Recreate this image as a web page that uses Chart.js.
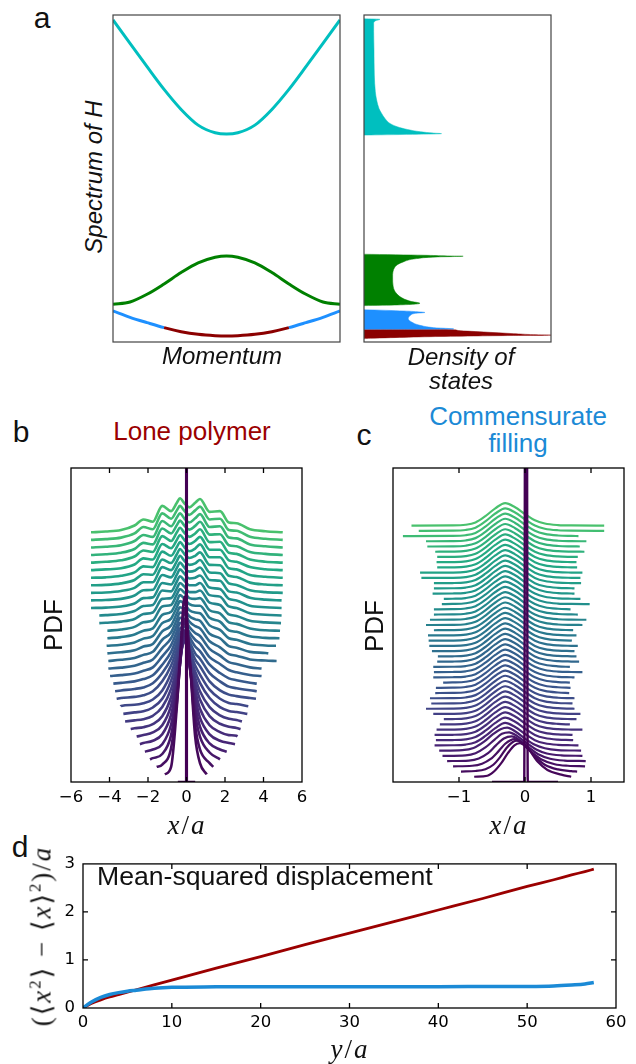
<!DOCTYPE html>
<html lang="en">
<head>
  <meta charset="UTF-8" />
  <meta name="viewport" content="width=device-width, initial-scale=1" />
  <title>Spectrum, PDF ridges and mean-squared displacement</title>
  <script src="https://cdn.jsdelivr.net/npm/chart.js"></script>
  <style>
    * { box-sizing: border-box; }
    body {
      margin: 0;
      width: 636px;
      height: 1064px;
      position: relative;
      overflow: hidden;
      background: #fff;
      color: #111;
      font-family: "Liberation Sans", Arial, sans-serif;
    }
    canvas { display: block; }
    .panel { position: absolute; }
    .t {
      position: absolute;
      line-height: 1;
      white-space: nowrap;
      transform: translate(-50%, -50%);
    }
    .rot { transform: translate(-50%, -50%) rotate(-90deg); }
    .letter { font-size: 30px; }
    .ital { font-style: italic; font-size: 24px; }
    .big { font-size: 26px; }
    .math { font-family: "Liberation Serif", "DejaVu Serif", serif; font-size: 27px; letter-spacing: 2px; }
    .math sup { font-size: 0.62em; vertical-align: 0.6em; line-height: 0; }
  </style>
</head>
<body>
  <!-- panel a -->
  <div class="panel" style="left:109px; top:11px;"><canvas id="bandChart" width="235" height="335"></canvas></div>
  <div class="panel" style="left:360px; top:11px;"><canvas id="dosChart" width="195" height="335"></canvas></div>
  <!-- panels b and c -->
  <div class="panel" style="left:46px; top:458px;"><canvas id="loneChart" width="281" height="354"></canvas></div>
  <div class="panel" style="left:373px; top:458px;"><canvas id="commChart" width="257" height="354"></canvas></div>
  <!-- panel d -->
  <div class="panel" style="left:43px; top:846px;"><canvas id="msdChart" width="593" height="192"></canvas></div>

  <div class="t letter" style="left:42px; top:18px;">a</div>
  <div class="t ital rot" style="left:94px; top:177px;">Spectrum of H</div>
  <div class="t ital" style="left:222px; top:356px;">Momentum</div>
  <div class="t ital" style="left:461px; top:357px;">Density of</div>
  <div class="t ital" style="left:461px; top:381px;">states</div>

  <div class="t letter" style="left:21px; top:432px;">b</div>
  <div class="t big" style="left:192px; top:431px; color:#9b0000;">Lone polymer</div>
  <div class="t letter" style="left:364px; top:435px;">c</div>
  <div class="t big" style="left:518px; top:416px; color:#1b8ad6;">Commensurate</div>
  <div class="t big" style="left:518px; top:443px; color:#1b8ad6;">filling</div>
  <div class="t big rot" style="left:53px; top:625px;">PDF</div>
  <div class="t big rot" style="left:374px; top:626px;">PDF</div>
  <div class="t math" style="left:187px; top:825px;"><i>x</i>/<i>a</i></div>
  <div class="t math" style="left:509px; top:825px;"><i>x</i>/<i>a</i></div>

  <div class="t letter" style="left:20px; top:847px;">d</div>
  <div class="t math rot" style="left:42px; top:936px;">(⟨<i>x</i><sup>2</sup>⟩ − ⟨<i>x</i>⟩<sup>2</sup>)/<i>a</i></div>
  <div class="t math" style="left:350px; top:1049px;"><i>y</i>/<i>a</i></div>
  <div style="position:absolute; left:97px; top:876px; transform:translateY(-50%); font-size:26.6px; line-height:1; white-space:nowrap;">Mean-squared displacement</div>

  <script>
    // ---------- panel a: bands vs momentum ----------
    const bandK   = [-1, -0.85, -0.7, -0.55, -0.4, -0.25, -0.1, 0, 0.1, 0.25, 0.4, 0.55, 0.7, 0.85, 1];
    const bandTop = [96.5, 89.5, 82.5, 75.7, 69.7, 65, 62.7, 62.3, 62.7, 65, 69.7, 75.7, 82.5, 89.5, 96.5];
    const bandMid = [11.3, 12.0, 14.3, 17.4, 20.8, 23.7, 25.4, 25.8, 25.4, 23.7, 20.8, 17.4, 14.3, 12.0, 11.3];
    const bandLow = [9.3, 7.4, 5.8, 4.3, 3.1, 2.3, 1.9, 1.8, 1.9, 2.3, 3.1, 4.3, 5.8, 7.4, 9.3];
    const lowestRange = [-0.55, 0.55];   // part of the lowest band drawn dark red

    // ---------- panel a: density of states, [energy, density] ----------
    const dosTop = [[96.9, 0], [96.7, 4.8], [96.3, 3.5], [95.5, 2.9], [93, 2.9], [87.5, 3.0], [80, 3.1],
      [75, 3.4], [72.5, 3.8], [70, 4.5], [68.5, 5.3], [67, 6.3], [65.5, 7.8], [64.5, 10], [63.7, 13],
      [63.0, 17], [62.6, 21], [62.45, 23.3], [62.0, 0]];
    const dosMid = [[26.3, 0], [26.0, 18], [25.8, 25], [25.7, 29.8], [25.5, 22], [25.0, 15.8], [24.0, 11.8],
      [22.5, 9.3], [19.5, 8.6], [16.5, 8.8], [14.5, 9.8], [13.0, 11.8], [12.2, 14], [11.6, 16.8], [11.1, 10], [10.9, 0]];
    const dosLow = [[9.7, 0], [9.3, 12], [9.0, 17], [8.85, 18.3], [8.6, 15.5], [8.0, 14.0], [7.0, 13.3],
      [6.0, 14.3], [5.0, 16.8], [4.3, 21], [3.9, 27], [3.8, 0]];
    const dosLowest = [[3.85, 0], [3.8, 23], [3.5, 28], [3.0, 36], [2.5, 45], [2.2, 51], [2.05, 56.2],
      [1.95, 45], [1.8, 33], [1.6, 20], [1.3, 8], [1.1, 2], [1.0, 0]];

    // ---------- panel b: lone polymer PDFs (curve 1 at the bottom) ----------
    const bKnots = [-4.2, -3.4, -2.7, -2.24, -1.75, -1.26, -0.8, -0.5, -0.34, -0.1, 0.15, 0.45, 0.7, 1.2, 1.74, 2.2, 2.6, 3.3, 4.1];
    const bLeft = [-1.12, -1.55, -1.9, -2.16, -2.42, -2.59, -2.9, -3.19, -3.28, -3.42, -3.63, -3.71, -3.8, -3.97,
      -4.06, -4.06, -4.11, -4.15, -4.11, -4.11, -4.53, -4.53, -4.96, -4.96, -4.96, -4.96, -4.96, -4.96, -4.96,
      -4.96, -4.96, -4.96, -4.96];
    const bRight = [1.05, 1.39, 1.74, 2.09, 2.52, 2.64, 2.81, 2.88, 3.16, 3.21, 3.61, 3.65, 3.65, 3.9, 3.9,
      4.68, 4.25, 4.65, 4.83, 4.86, 4.91, 4.94, 4.94, 4.94, 5, 5, 5, 5, 5, 5, 5, 5, 5];
    const n = null;
    const bRows = [
      [n, n, n, n, n, n, 1, 9, 15, 23.5, 16, 5, 1.5, n, n, n, n, n, n],
      [n, n, n, n, n, 0.3, 2.5, 8.5, 13.5, 21, 14.5, 5.5, 2.3, 0.5, n, n, n, n, n],
      [n, n, n, n, 0.15, 0.7, 3.2, 8.2, 12.5, 18.5, 13, 6, 3, 0.9, n, n, n, n, n],
      [n, n, n, n, 0.3, 1, 3.6, 8, 11.5, 16, 11.5, 6.2, 3.3, 1.1, 0.3, n, n, n, n],
      [n, n, n, 0.15, 0.45, 1.3, 3.9, 7.8, 10.8, 14.2, 10.5, 6.2, 3.5, 1.3, 0.45, 0.15, n, n, n],
      [n, n, n, 0.2, 0.55, 1.5, 4.1, 7.6, 10.2, 12.8, 9.6, 6.1, 3.7, 1.5, 0.6, 0.2, 0.1, n, n],
      [n, n, 0.1, 0.25, 0.65, 1.7, 4.2, 7.4, 9.6, 11.6, 9, 6, 3.9, 1.7, 0.7, 0.3, 0.15, n, n],
      [n, n, 0.15, 0.3, 0.75, 1.9, 4.3, 7.1, 9.1, 10.6, 8.4, 5.8, 4, 1.9, 0.8, 0.35, 0.2, n, n],
      [n, n, 0.2, 0.35, 0.85, 2, 4.4, 6.9, 8.7, 9.8, 7.9, 5.6, 4.1, 2.1, 0.9, 0.4, 0.25, n, n],
      [n, 0.05, 0.2, 0.4, 0.9, 2.1, 4.4, 6.7, 8.3, 9.1, 7.4, 5.4, 4.2, 2.2, 1, 0.45, 0.3, n, n],
      [n, 0.1, 0.25, 0.45, 1, 2.3, 4.4, 6.5, 7.9, 8.5, 7, 5.2, 4.3, 2.3, 1.1, 0.55, 0.35, 0.1, n],
      [n, 0.1, 0.3, 0.5, 1.05, 2.4, 4.3, 6.3, 7.6, 8, 6.6, 5, 4.3, 2.4, 1.3, 0.6, 0.4, 0.12, n],
      [n, 0.1, 0.3, 0.6, 1.1, 2.5, 4.2, 6.1, 7.3, 7.5, 6.2, 4.9, 4.3, 2.5, 1.4, 0.7, 0.45, 0.12, n],
      [n, 0.12, 0.35, 0.7, 1.15, 2.6, 4.1, 5.9, 7, 7, 5.8, 4.8, 4.3, 2.5, 1.6, 0.8, 0.5, 0.15, n],
      [n, 0.12, 0.35, 0.75, 1.2, 2.7, 4, 5.7, 6.7, 6.6, 5.5, 4.7, 4.3, 2.6, 1.7, 0.85, 0.6, 0.15, n],
      [n, 0.15, 0.4, 0.8, 1.2, 2.8, 3.8, 5.5, 6.4, 6.2, 5.2, 4.6, 4.3, 2.6, 1.8, 0.9, 0.7, 0.2, 0.05],
      [n, 0.15, 0.4, 0.9, 1.25, 2.9, 3.7, 5.3, 6.1, 5.8, 4.9, 4.5, 4.3, 2.6, 2, 0.95, 0.75, 0.2, 0.05],
      [n, 0.15, 0.45, 0.95, 1.3, 3, 3.6, 5.1, 5.9, 5.5, 4.7, 4.4, 4.3, 2.7, 2.1, 1, 0.8, 0.25, 0.05],
      [n, 0.15, 0.5, 1, 1.3, 3.1, 3.5, 4.9, 5.7, 5.2, 4.5, 4.3, 4.3, 2.7, 2.2, 1.05, 0.85, 0.25, 0.05],
      [n, 0.15, 0.5, 1.1, 1.35, 3.2, 3.4, 4.8, 5.5, 5, 4.3, 4.2, 4.3, 2.7, 2.3, 1.1, 0.9, 0.3, 0.05],
      [0.05, 0.2, 0.55, 1.2, 1.4, 3.2, 3.3, 4.6, 5.3, 4.8, 4.1, 4.1, 4.3, 2.7, 2.4, 1.15, 0.95, 0.3, 0.1],
      [0.05, 0.2, 0.6, 1.25, 1.4, 3.3, 3.2, 4.5, 5.2, 4.6, 4, 4, 4.3, 2.7, 2.5, 1.2, 1, 0.3, 0.1],
      [0.05, 0.2, 0.6, 1.3, 1.4, 3.3, 3.1, 4.4, 5.1, 4.5, 3.9, 4, 4.3, 2.7, 2.5, 1.2, 1, 0.3, 0.1],
      [0.05, 0.2, 0.65, 1.35, 1.4, 3.35, 3.05, 4.3, 5, 4.3, 3.8, 3.95, 4.35, 2.7, 2.6, 1.2, 1.05, 0.35, 0.1],
      [0.05, 0.25, 0.65, 1.4, 1.4, 3.4, 3, 4.2, 4.9, 4.2, 3.7, 3.9, 4.35, 2.7, 2.6, 1.25, 1.05, 0.35, 0.1],
      [0.05, 0.25, 0.7, 1.45, 1.4, 3.4, 2.95, 4.1, 4.8, 4.1, 3.6, 3.9, 4.35, 2.7, 2.65, 1.25, 1.1, 0.35, 0.1],
      [0.05, 0.25, 0.7, 1.5, 1.4, 3.45, 2.9, 4.05, 4.7, 4, 3.5, 3.85, 4.4, 2.7, 2.7, 1.25, 1.1, 0.35, 0.12],
      [0.1, 0.25, 0.75, 1.55, 1.4, 3.45, 2.9, 4, 4.65, 3.95, 3.45, 3.85, 4.4, 2.7, 2.7, 1.3, 1.1, 0.4, 0.12],
      [0.1, 0.3, 0.8, 1.6, 1.4, 3.5, 2.85, 4, 4.6, 3.9, 3.4, 3.85, 4.4, 2.7, 2.75, 1.3, 1.15, 0.4, 0.12],
      [0.1, 0.3, 0.8, 1.6, 1.4, 3.5, 2.85, 3.95, 4.55, 3.85, 3.35, 3.85, 4.4, 2.7, 2.75, 1.3, 1.15, 0.4, 0.15],
      [0.1, 0.3, 0.85, 1.65, 1.4, 3.5, 2.8, 3.95, 4.5, 3.8, 3.3, 3.85, 4.4, 2.7, 2.8, 1.3, 1.2, 0.4, 0.15],
      [0.1, 0.3, 0.85, 1.7, 1.4, 3.5, 2.8, 3.9, 4.5, 3.8, 3.3, 3.9, 4.4, 2.7, 2.8, 1.3, 1.2, 0.4, 0.15],
      [0.1, 0.3, 0.9, 1.7, 1.4, 3.5, 2.8, 3.9, 4.5, 3.8, 3.3, 3.9, 4.4, 2.7, 2.8, 1.3, 1.2, 0.4, 0.15]
    ];
    const bDelta = [[-0.45, 0], [-0.015, 0], [0, 300], [0.015, 0], [0.45, 0]];   // curve 0, off the top
    const bTickLabels = [-6, -4, -2, 0, 2, 4, 6];
    const bTickMarks = [-4, -2, 0, 2, 4];

    // ---------- panel c: commensurate filling PDFs ----------
    // extents listed from the top curve down
    const cLeftTopDown = [-1.72, -1.61, -1.85, -1.5, -1.48, -1.36, -1.33, -1.34, -1.33, -1.59, -1.57, -1.38,
      -1.38, -1.4, -1.23, -1.26, -1.38, -1.38, -1.44, -1.5, -1.38, -1.47, -1.46, -1.45, -1.41, -1.32, -1.33,
      -1.39, -1.38, -1.39, -1.24, -1.35, -1.36, -1.44, -1.42, -1.5, -1.39, -1.23, -1.29, -1.34, -1.37, -1.35,
      -1.37, -1.3, -1.25, -1.18, -1.09, -0.97, -0.77];
    const cRightTopDown = [1.2, 1.2, 0.81, 0.93, 0.83, 0.9, 0.8, 0.78, 0.79, 0.87, 0.84, 0.85, 0.75, 0.75,
      0.84, 0.98, 0.69, 0.8, 0.93, 0.87, 0.73, 0.78, 0.71, 0.8, 0.75, 0.78, 0.82, 0.68, 0.87, 0.75, 0.68,
      0.69, 0.67, 0.75, 0.72, 0.75, 0.84, 0.78, 0.68, 0.87, 0.72, 0.73, 0.81, 0.85, 0.87, 0.92, 0.91, 0.79, 0.7];
    const cPeakX = [-1.1, -0.9, -0.75, -0.6, -0.45, -0.3, -0.15, 0.0, 0.15, 0.3, 0.5, 0.7];
    const cPeakH = [0.02, 0.15, 0.6, 1.8, 3.3, 4.3, 3.5, 2.2, 1.0, 0.4, 0.1, 0.02];
    // lowest six curves, [x, height], bottom first
    const cLow = [
      [[-0.57, 0.2], [-0.47, 1.0], [-0.36, 2.6], [-0.26, 4.5], [-0.16, 6.0], [-0.08, 6.4], [0.04, 5.5], [0.19, 2.9], [0.34, 1.3], [0.55, 0.4]],
      [[-0.75, 0.1], [-0.6, 0.45], [-0.48, 1.3], [-0.38, 2.7], [-0.28, 4.5], [-0.19, 5.6], [-0.12, 5.9], [0.0, 5.0], [0.15, 2.9], [0.3, 1.3], [0.5, 0.4], [0.7, 0.08]],
      [[-0.8, 0.1], [-0.65, 0.5], [-0.52, 1.4], [-0.4, 2.9], [-0.3, 4.3], [-0.22, 5.0], [-0.16, 5.2], [-0.05, 4.4], [0.1, 2.7], [0.25, 1.3], [0.45, 0.4], [0.65, 0.1]],
      [[-0.85, 0.1], [-0.7, 0.5], [-0.56, 1.5], [-0.44, 3.0], [-0.32, 4.3], [-0.2, 4.7], [-0.08, 4.0], [0.05, 2.7], [0.2, 1.3], [0.38, 0.45], [0.6, 0.1]],
      [[-0.9, 0.1], [-0.75, 0.5], [-0.6, 1.6], [-0.46, 3.1], [-0.35, 4.2], [-0.24, 4.5], [-0.12, 3.8], [0.02, 2.5], [0.17, 1.2], [0.33, 0.45], [0.55, 0.1]],
      [[-0.95, 0.1], [-0.78, 0.5], [-0.62, 1.7], [-0.48, 3.2], [-0.37, 4.1], [-0.27, 4.4], [-0.14, 3.6], [0.0, 2.3], [0.15, 1.1], [0.3, 0.45], [0.5, 0.1]]
    ];
    const cDelta = [[-0.5, 0], [-0.012, 0], [0.015, 200], [0.042, 0], [0.5, 0]];
    const cTickLabels = [-1, 0, 1];

    // ---------- panel d: mean-squared displacement ----------
    const msdY    = [0, 0.5, 1, 2, 3, 4, 5, 6, 8, 10, 15, 20, 25, 30, 35, 40, 45, 50, 53, 55, 56.5, 57.5];
    const msdLone = [0, 0.05, 0.1, 0.17, 0.23, 0.28, 0.33, 0.38, 0.48, 0.58, 0.83, 1.07, 1.32, 1.56, 1.8, 2.04, 2.28, 2.53, 2.67, 2.77, 2.84, 2.89];
    const msdComm = [0, 0.07, 0.13, 0.22, 0.28, 0.32, 0.35, 0.37, 0.41, 0.43, 0.44, 0.445, 0.445, 0.445, 0.445, 0.445, 0.447, 0.45, 0.46, 0.48, 0.5, 0.53];
    const msdXTicks = [0, 10, 20, 30, 40, 50, 60];
    const msdYTicks = [0, 1, 2, 3];

    // ---------- styling helpers ----------
    const CYAN = '#00bfbf', GREEN = '#008000', BLUE = '#1e90ff', DARKRED = '#8b0000';
    const LONE = '#9b0000', COMM = '#1b8ad6';
    const VIRIDIS = ['#440154', '#482475', '#414487', '#355f8d', '#2a788e', '#21918c', '#22a884', '#44bf70', '#7ad151', '#bddf26', '#fde725'];
    const hex = h => [1, 3, 5].map(j => parseInt(h.slice(j, j + 2), 16));
    function viridis(t) {
      const p = Math.max(0, Math.min(1, t)) * 10;
      const i = Math.min(9, Math.floor(p)), f = p - i;
      const a = hex(VIRIDIS[i]), b = hex(VIRIDIS[i + 1]);
      return 'rgb(' + a.map((v, k) => Math.round(v + (b[k] - v) * f)).join(',') + ')';
    }
    const fmtTick = v => (v < 0 ? '\u2212' + Math.abs(v) : String(v));

    Chart.defaults.font.family = 'DejaVu Sans';
    Chart.defaults.color = '#000';

    // box around the plot area plus inward tick marks
    const framePlugin = {
      id: 'frame',
      afterDatasetsDraw(chart, args, opts) {
        const { ctx, chartArea: a } = chart;
        ctx.save();
        ctx.strokeStyle = opts.color || '#000';
        ctx.lineWidth = opts.width || 1.3;
        ctx.strokeRect(a.left, a.top, a.right - a.left, a.bottom - a.top);
        const len = opts.len || 5;
        ctx.beginPath();
        (opts.xMarks || []).forEach(v => {
          const px = chart.scales.x.getPixelForValue(v);
          ctx.moveTo(px, a.bottom); ctx.lineTo(px, a.bottom - len);
          ctx.moveTo(px, a.top); ctx.lineTo(px, a.top + len);
        });
        (opts.yMarks || []).forEach(v => {
          const py = chart.scales.y.getPixelForValue(v);
          ctx.moveTo(a.left, py); ctx.lineTo(a.left + len, py);
          ctx.moveTo(a.right, py); ctx.lineTo(a.right - len, py);
        });
        ctx.stroke();
        ctx.restore();
      }
    };

    const common = {
      responsive: false,
      animation: false,
      events: [],
      elements: { point: { radius: 0 }, line: { cubicInterpolationMode: 'monotone', borderJoinStyle: 'round' } }
    };
    const hidden = (min, max) => ({ type: 'linear', display: false, min, max });
    const tickAxis = (min, max, labels, pad, size) => ({
      type: 'linear', min, max,
      afterBuildTicks: s => { s.ticks = labels.map(v => ({ value: v })); },
      afterFit: s => { if (s.isHorizontal()) s.height = size; else s.width = size; },
      grid: { display: false, drawTicks: false },
      border: { display: false },
      ticks: { padding: pad, color: '#000', font: { family: 'DejaVu Sans', size: 16.5 }, maxRotation: 0, autoSkip: false, callback: fmtTick }
    });

    // ---------- panel a charts ----------
    new Chart(document.getElementById('bandChart'), {
      type: 'line',
      data: {
        datasets: [
          { data: bandK.map((k, i) => ({ x: k, y: bandTop[i] })), borderColor: CYAN, borderWidth: 3 },
          { data: bandK.map((k, i) => ({ x: k, y: bandMid[i] })), borderColor: GREEN, borderWidth: 3 },
          {
            data: bandK.map((k, i) => ({ x: k, y: bandLow[i] })), borderColor: BLUE, borderWidth: 3,
            segment: {
              borderColor: c => (bandK[c.p0DataIndex] >= lowestRange[0] - 1e-6 && bandK[c.p1DataIndex] <= lowestRange[1] + 1e-6) ? DARKRED : BLUE
            }
          }
        ]
      },
      options: {
        ...common,
        layout: { padding: 4 },
        scales: { x: hidden(-1, 1), y: hidden(0, 98) },
        plugins: { legend: { display: false }, tooltip: { enabled: false }, frame: { color: '#444', width: 1.2 } }
      },
      plugins: [framePlugin]
    });

    const dosSet = (pairs, color) => ({
      data: pairs.map(p => ({ x: p[1], y: p[0] })),
      borderColor: color, backgroundColor: color, borderWidth: 0.5, fill: 'origin'
    });
    new Chart(document.getElementById('dosChart'), {
      type: 'line',
      data: { datasets: [dosSet(dosTop, CYAN), dosSet(dosMid, GREEN), dosSet(dosLow, BLUE), dosSet(dosLowest, DARKRED)] },
      options: {
        ...common,
        indexAxis: 'y',
        layout: { padding: 4 },
        scales: { x: hidden(0, 56.2), y: hidden(0, 98) },
        plugins: { legend: { display: false }, tooltip: { enabled: false }, frame: { color: '#444', width: 1.2 } }
      },
      plugins: [framePlugin]
    });

    // ---------- panel b ----------
    const loneSets = [{
      data: bDelta.map(p => ({ x: p[0], y: p[1] })), borderColor: viridis(0), borderWidth: 2.6
    }];
    bRows.forEach((row, r) => {
      const lvl = r + 1, L = bLeft[r], R = bRight[r];
      const pts = [{ x: L, y: lvl }];
      bKnots.forEach((k, j) => {
        if (row[j] !== null && k > L && k < R) pts.push({ x: k, y: lvl + row[j] });
      });
      pts.push({ x: R, y: lvl });
      loneSets.push({ data: pts, borderColor: viridis(0.71 * lvl / bRows.length), borderWidth: 2.6 });
    });
    new Chart(document.getElementById('loneChart'), {
      type: 'line',
      data: { datasets: loneSets },
      options: {
        ...common,
        layout: { padding: { left: 25, right: 25, top: 10, bottom: 0 } },
        scales: { x: tickAxis(-6, 6, bTickLabels, 6, 30), y: hidden(0, 41.5) },
        plugins: { legend: { display: false }, tooltip: { enabled: false }, frame: { xMarks: bTickMarks } }
      },
      plugins: [framePlugin]
    });

    // ---------- panel c ----------
    const cLeft = cLeftTopDown.slice().reverse();
    const cRight = cRightTopDown.slice().reverse();
    const commSets = [{
      data: cDelta.map(p => ({ x: p[0], y: p[1] })), borderColor: viridis(0), borderWidth: 2.4
    }];
    cLeft.forEach((L, r) => {
      const lvl = r + 1, R = cRight[r];
      const shape = r < cLow.length ? cLow[r] : cPeakX.map((x, j) => [x, cPeakH[j]]);
      const pts = [{ x: L, y: lvl }];
      shape.forEach(p => { if (p[0] > L && p[0] < R) pts.push({ x: p[0], y: lvl + p[1] }); });
      pts.push({ x: R, y: lvl });
      commSets.push({ data: pts, borderColor: viridis(0.71 * lvl / cLeft.length), borderWidth: 2.2 });
    });
    new Chart(document.getElementById('commChart'), {
      type: 'line',
      data: { datasets: commSets },
      options: {
        ...common,
        layout: { padding: { left: 20, right: 6, top: 10, bottom: 0 } },
        scales: { x: tickAxis(-2, 1.5, cTickLabels, 6, 30), y: hidden(0, 60) },
        plugins: { legend: { display: false }, tooltip: { enabled: false }, frame: { xMarks: cTickLabels } }
      },
      plugins: [framePlugin]
    });

    // ---------- panel d ----------
    new Chart(document.getElementById('msdChart'), {
      type: 'line',
      data: {
        datasets: [
          { data: msdY.map((x, i) => ({ x, y: msdComm[i] })), borderColor: COMM, borderWidth: 3.5 },
          { data: msdY.map((x, i) => ({ x, y: msdLone[i] })), borderColor: LONE, borderWidth: 2.8 }
        ]
      },
      options: {
        ...common,
        layout: { padding: { left: 10, right: 20, top: 10, bottom: 0 } },
        scales: { x: tickAxis(0, 60, msdXTicks, 5, 30), y: tickAxis(0, 3, msdYTicks, 8, 30) },
        plugins: {
          legend: { display: false }, tooltip: { enabled: false },
          frame: { xMarks: [10, 20, 30, 40, 50], yMarks: [1, 2] }
        }
      },
      plugins: [framePlugin]
    });
  </script>
</body>
</html>
